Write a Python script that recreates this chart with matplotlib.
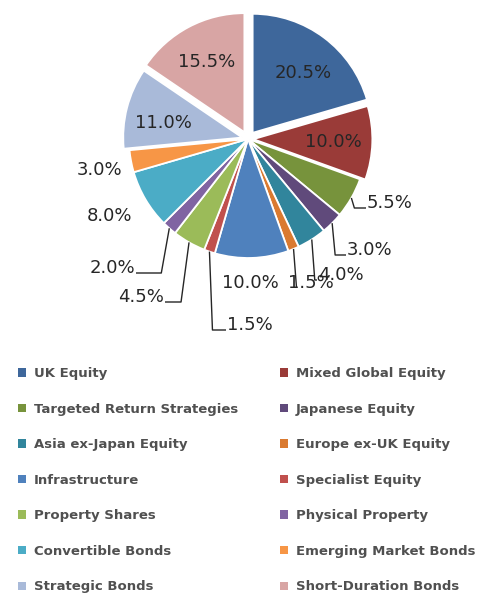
import matplotlib
matplotlib.use("Agg")
import matplotlib.pyplot as plt
from matplotlib.patches import Patch
import numpy as np

categories = [
    "UK Equity", "Mixed Global Equity", "Targeted Return Strategies",
    "Japanese Equity", "Asia ex-Japan Equity", "Europe ex-UK Equity",
    "Infrastructure", "Specialist Equity", "Property Shares",
    "Physical Property", "Convertible Bonds", "Emerging Market Bonds",
    "Strategic Bonds", "Short-Duration Bonds",
]
shares = [20.5, 10.0, 5.5, 3.0, 4.0, 1.5, 10.0, 1.5, 4.5, 2.0, 8.0, 3.0, 11.0, 15.5]
colors = [
    "#3E679B", "#9A3B38", "#77933C", "#604A7B", "#31859C", "#DA7A30",
    "#4F81BD", "#C0504D", "#9BBB59", "#8064A2", "#4BACC6", "#F79646",
    "#A9BAD9", "#D8A5A4",
]
explode = [0.065, 0.045, 0, 0, 0, 0, 0, 0, 0, 0, 0, 0, 0.05, 0.065]

W, H = 483, 596
CX, CY, R = 248, 139, 119  # pie centre / radius in pixels (from top)

# label placement (pixel coords from top-left); leader side or None
label_pos = [
    (303, 73, None), (333, 142, None), (390, 203, "right"), (370, 250, "right"),
    (341, 275, "right"), (311, 283, "right"), (250, 283, None), (250, 325, "right"),
    (141, 297, "left"), (112, 268, "left"), (109, 216, None), (100, 170, None),
    (163, 123, None), (207, 62, None),
]

fig = plt.figure(figsize=(W / 100, H / 100), dpi=100, facecolor="white")
ax = fig.add_axes([0, 0, 1, 1])

wedges, _ = ax.pie(
    shares, colors=colors, explode=[e * R for e in explode],
    startangle=90, counterclock=False,
    center=(CX, H - CY), radius=R,
    wedgeprops=dict(edgecolor="white", linewidth=1.3),
)
ax.set_xlim(0, W)
ax.set_ylim(0, H)
ax.axis("off")

label_kw = dict(fontsize=13, color="#262626", ha="center", va="center")
for w, val, (tx, ty, side) in zip(wedges, shares, label_pos):
    ax.text(tx, H - ty, f"{val:.1f}%", **label_kw)
    if side is None:
        continue
    mid = np.deg2rad((w.theta1 + w.theta2) / 2)
    ax0 = CX + R * np.cos(mid)
    ay0 = (H - CY) + R * np.sin(mid)
    ly = H - ty - 5
    if side == "right":
        ex = ax0 + 3
        endx = tx - 24
        xs = [ax0, ex, max(endx, ex)]
    else:
        ex = ax0 - 8
        endx = tx + 24
        xs = [ax0, ex, min(endx, ex)]
    ax.plot(xs, [ay0, ly, ly], color="#262626", lw=1.0, solid_capstyle="butt")

# legend: two columns, filled row-wise
handles = [Patch(facecolor=c, edgecolor="none") for c in colors]
leg_kw = dict(
    loc="upper left", frameon=False,
    prop=dict(size=9.5, weight="bold"), labelcolor="#505050",
    handlelength=0.6, handleheight=0.6, handletextpad=0.6,
    labelspacing=1.71, borderpad=0, borderaxespad=0,
)
for col, x0 in ((0, 18), (1, 280)):
    idx = list(range(col, len(categories), 2))
    fig.legend([handles[i] for i in idx], [categories[i] for i in idx],
               bbox_to_anchor=(x0 / W, 1 - 367 / H), **leg_kw)

fig.savefig("out.png", dpi=100, facecolor="white")
